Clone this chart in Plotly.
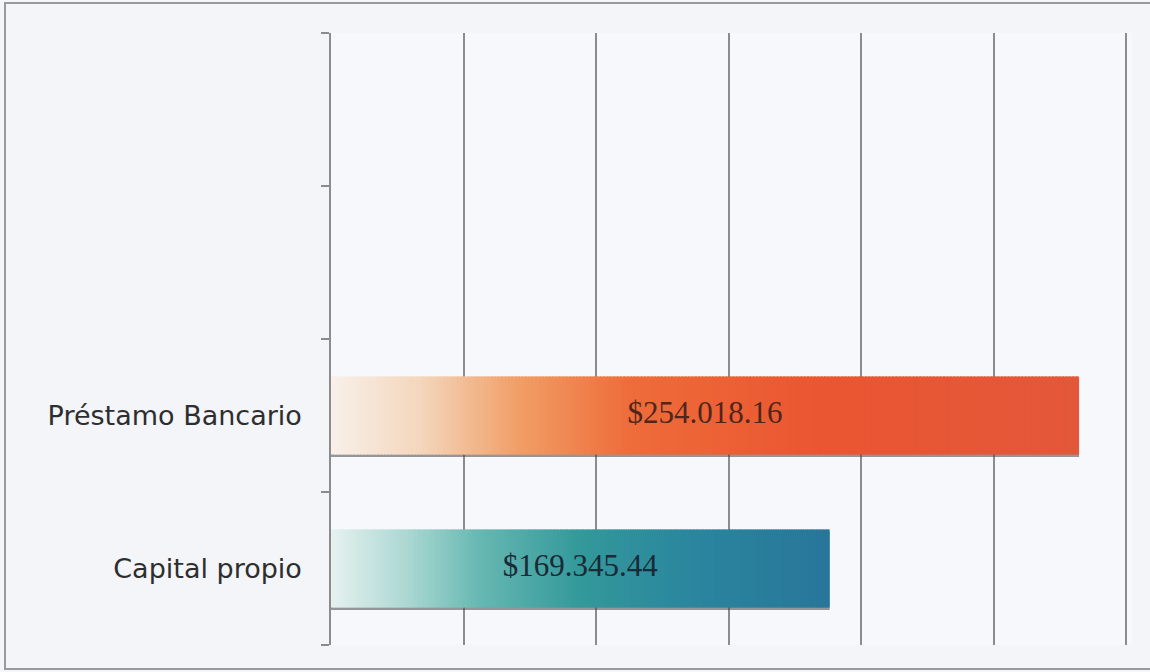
import plotly.graph_objects as go

# ---- data ----
categories = ["Capital propio", "Préstamo Bancario", " ", "  "]
bar_categories = ["Capital propio", "Préstamo Bancario"]
bar_values = [169345.44, 254018.16]
bar_labels = ["$169.345.44", "$254.018.16"]

# ---- styles ----
W, H = 1150, 672
ML, MR, MT, MB = 331, 18, 33, 27
X_MAX = 272000
DTICK = 45000
BAR_W = 0.51
N_SEG = 220

gradients = {
    "Préstamo Bancario": [(0.0, "#f8f0ea"), (0.12, "#f4d6bc"), (0.25, "#f19e66"),
                          (0.40, "#ee6c3a"), (0.65, "#ea5631"), (1.0, "#e3573a")],
    "Capital propio": [(0.0, "#e6f1ef"), (0.15, "#add8d3"), (0.30, "#66b7b1"),
                       (0.50, "#33999a"), (0.72, "#2b869e"), (1.0, "#28769a")],
}
label_colors = {"Préstamo Bancario": "#50261c", "Capital propio": "#1a2a36"}


def hex2rgb(h):
    h = h.lstrip("#")
    return tuple(int(h[i:i + 2], 16) for i in (0, 2, 4))


def interp(stops, t):
    for (t0, c0), (t1, c1) in zip(stops[:-1], stops[1:]):
        if t0 <= t <= t1:
            f = (t - t0) / (t1 - t0) if t1 > t0 else 0
            a, b = hex2rgb(c0), hex2rgb(c1)
            return "rgb(%d,%d,%d)" % tuple(round(a[i] + (b[i] - a[i]) * f) for i in range(3))
    return stops[-1][1]


fig = go.Figure()

# soft shadows under bars
fig.add_trace(go.Bar(
    y=bar_categories, x=bar_values, orientation="h",
    width=BAR_W, offset=-BAR_W / 2 - 0.016,
    marker=dict(color="rgba(70,70,70,0.55)", line=dict(width=0)),
    hoverinfo="skip", showlegend=False,
))

# gradient bars built as segments of each value
for cat, val in zip(bar_categories, bar_values):
    seg = val / N_SEG
    bases = [seg * i for i in range(N_SEG)]
    lens = [seg * 1.6 if i < N_SEG - 1 else seg for i in range(N_SEG)]
    cols = [interp(gradients[cat], (i + 0.5) / N_SEG) for i in range(N_SEG)]
    fig.add_trace(go.Bar(
        y=[cat] * N_SEG, x=lens, base=bases, orientation="h",
        width=BAR_W, offset=-BAR_W / 2,
        marker=dict(color=cols, line=dict(width=0)),
        hoverinfo="skip", showlegend=False,
    ))

# value labels centred in bars
fig.add_trace(go.Scatter(
    y=bar_categories, x=[v / 2 for v in bar_values], mode="text",
    text=bar_labels,
    textfont=dict(family="Liberation Serif", size=31,
                  color=[label_colors[c] for c in bar_categories]),
    hoverinfo="skip", showlegend=False,
))

pw = W - ML - MR
ph = H - MT - MB
line_col = "#9a9a9a"


def px_x(p):
    return (p - ML) / pw


def px_y(p):
    return (H - MB - p) / ph


fig.add_shape(type="line", xref="paper", yref="paper",
              x0=px_x(4), x1=px_x(W), y0=px_y(3), y1=px_y(3),
              line=dict(color=line_col, width=2))
fig.add_shape(type="line", xref="paper", yref="paper",
              x0=px_x(4), x1=px_x(W), y0=px_y(669), y1=px_y(669),
              line=dict(color=line_col, width=2))
fig.add_shape(type="line", xref="paper", yref="paper",
              x0=px_x(5), x1=px_x(5), y0=px_y(3), y1=px_y(669),
              line=dict(color=line_col, width=2))

fig.update_layout(
    width=W, height=H,
    margin=dict(l=ML, r=MR, t=MT, b=MB),
    paper_bgcolor="#f3f5f9",
    plot_bgcolor="#f7f8fb",
    barmode="overlay",
    showlegend=False,
    xaxis=dict(range=[0, X_MAX], dtick=DTICK, tick0=0, showticklabels=False,
               showgrid=True, gridcolor="#8c8c8c", gridwidth=1.5,
               zeroline=False, showline=False, ticks=""),
    yaxis=dict(type="category", categoryorder="array", categoryarray=categories,
               range=[-0.5, 3.5], tickson="boundaries", ticks="outside",
               ticklen=8, tickcolor="#8c8c8c", tickwidth=1.5,
               showline=True, linecolor="#8c8c8c", linewidth=1.5,
               showgrid=False, zeroline=False, ticklabelstandoff=22,
               tickfont=dict(family="DejaVu Sans", size=27, color="#2e2e2e")),
)

fig.write_html("out.html", config={"displayModeBar": False},
               post_script="document.body.style.margin='0';document.body.style.overflow='hidden';")
